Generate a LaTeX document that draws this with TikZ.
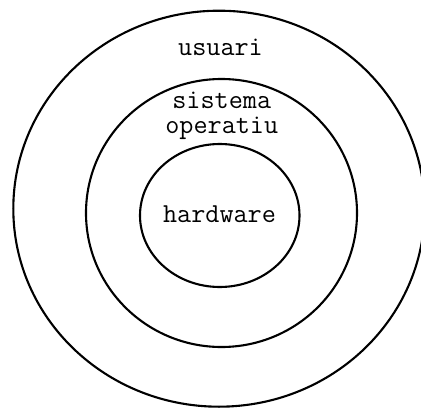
\documentclass[tikz,border=0pt]{standalone}
\usepackage{fontspec}
\begin{document}
\begin{tikzpicture}[x=1pt,y=-1pt,
  ring/.style={line width=2.1pt,draw=black},
  lbl/.style={font=\ttfamily\fontsize{27.4}{24.5}\selectfont,inner sep=0pt,anchor=base,align=center}]
  \useasboundingbox (0,0) rectangle (421,410);
  % concentric layers
  \draw[ring] (219,208.7) ellipse [x radius=205.7,y radius=198];
  \draw[ring] (221.5,213) ellipse [x radius=135.5,y radius=134];
  \draw[ring] (219.75,215.5) ellipse [x radius=79.75,y radius=71.5];
  % layer names (base anchor sits on the last line)
  \node[lbl] (usuari) at (220.5,55) {usuari};
  \node[lbl] (so) at (221.75,133) {sistema\\operatiu};
  \node[lbl] (hardware) at (219.5,222) {hardware};
\end{tikzpicture}
\end{document}
